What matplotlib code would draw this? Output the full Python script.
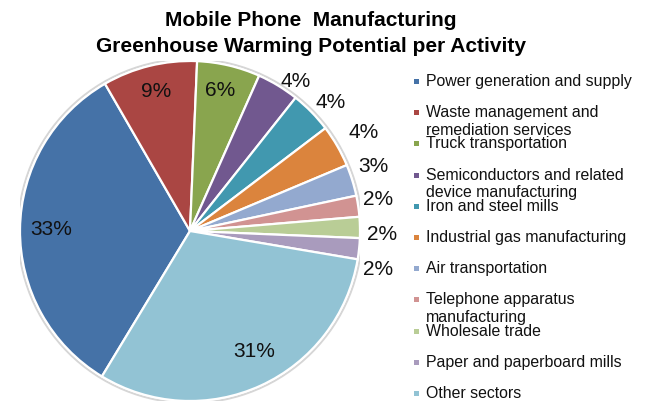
import matplotlib.pyplot as plt
import numpy as np
from matplotlib.patches import Circle, Rectangle

plt.rcParams['font.family'] = ['Liberation Sans', 'DejaVu Sans']

sectors = [
    "Power generation and supply",
    "Waste management and\nremediation services",
    "Truck transportation",
    "Semiconductors and related\ndevice manufacturing",
    "Iron and steel mills",
    "Industrial gas manufacturing",
    "Air transportation",
    "Telephone apparatus\nmanufacturing",
    "Wholesale trade",
    "Paper and paperboard mills",
    "Other sectors",
]
shares = [33, 9, 6, 4, 4, 4, 3, 2, 2, 2, 31]
colors = ['#4572A7', '#AA4643', '#89A54E', '#71588F', '#4198AF', '#DB843D',
          '#93A9CF', '#D19392', '#B9CD96', '#A99BBD', '#92C3D4']
# small pixel nudges so the outside labels don't crowd each other
label_nudge = [(1, 0), (-1, 4), (-2, 5), (6, -15), (3, -6), (7, 2),
               (0, 7), (-2, 3), (0, -8), (-3, -18), (6, 6)]

fig = plt.figure(figsize=(6.46, 4.03), dpi=100)
W, H = 646, 403

# pie axes: centre (190, 231) px, radius 170 px
cx, cy, r = 190, 231, 170
ax = fig.add_axes([(cx - r) / W, (H - cy - r) / H, 2 * r / W, 2 * r / H])

ax.add_patch(Circle((0, 0), 1.012, facecolor='none', edgecolor='#d6d6d6', lw=1.5, zorder=0))
wedges, _ = ax.pie(shares, colors=colors, startangle=238.8, counterclock=False,
                   radius=1.0, wedgeprops=dict(edgecolor='white', linewidth=1.6))
ax.set_xlim(-1, 1)
ax.set_ylim(-1, 1)
ax.set_aspect('equal')
ax.axis('off')

# percentage labels: big slices inside, small ones just outside the rim
for w, v, nudge in zip(wedges, shares, label_nudge):
    mid = np.deg2rad((w.theta1 + w.theta2) / 2)
    dist = 0.82 if v >= 6 else 1.13
    ax.annotate(f"{v}%", (dist * np.cos(mid), dist * np.sin(mid)),
                xytext=nudge, textcoords='offset pixels', annotation_clip=False,
                ha='center', va='center', fontsize=15, color='#111111')

fig.text(311 / W, 1 - 20 / H, "Mobile Phone  Manufacturing", ha='center', va='center',
         fontsize=15, fontweight='bold')
fig.text(311 / W, 1 - 46 / H, "Greenhouse Warming Potential per Activity", ha='center',
         va='center', fontsize=15, fontweight='bold')

# legend entries, evenly spaced; second lines run into the next entry
y0, step = 81.5, 31.2
for i, (name, c) in enumerate(zip(sectors, colors)):
    y = y0 + i * step
    fig.patches.append(Rectangle((414 / W, 1 - (y + 2.5) / H), 5 / W, 5 / H,
                                 facecolor=c, edgecolor='none', transform=fig.transFigure))
    for k, line in enumerate(name.split('\n')):
        fig.text(426 / W, 1 - (y + k * 17.5) / H, line, ha='left', va='center',
                 fontsize=11.4, color='#111111')

fig.savefig('out.png', dpi=100)
